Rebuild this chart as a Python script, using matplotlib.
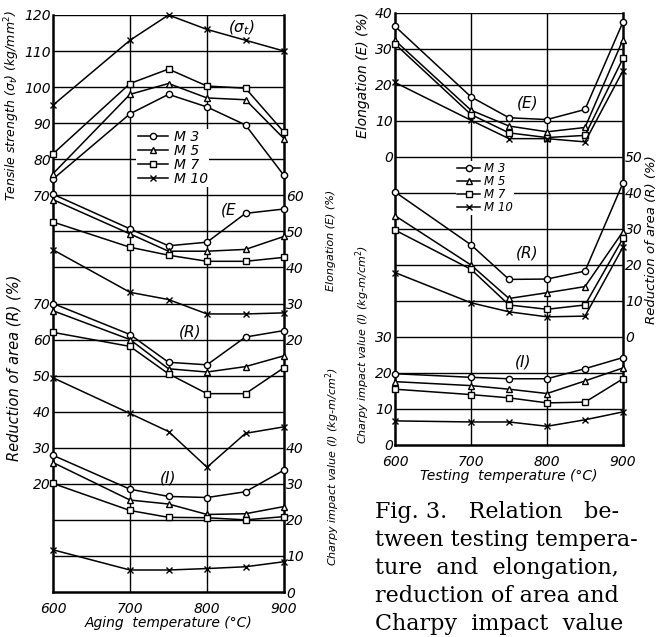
import matplotlib.pyplot as plt
from matplotlib.lines import Line2D

temps = [600, 700, 750, 800, 850, 900]
steels = ['M 3', 'M 5', 'M 7', 'M 10']
markers = ['o', '^', 's', 'x']

# left chart: aging temperature, rows = M3, M5, M7, M10
aging_tensile = [[74.5, 92.6, 98.0, 94.5, 89.5, 75.5],
                 [76.0, 98.0, 101.0, 97.0, 96.5, 85.7],
                 [81.5, 101.0, 105.0, 100.3, 99.7, 87.5],
                 [95.0, 113.0, 120.0, 116.0, 113.0, 110.0]]
aging_elong = [[60.3, 50.7, 46.0, 47.0, 55.0, 56.2],
               [58.8, 49.3, 44.5, 44.5, 45.0, 48.6],
               [52.6, 45.6, 43.4, 41.7, 41.7, 42.8],
               [44.9, 33.1, 31.1, 27.1, 27.1, 27.4]]
aging_red = [[70.0, 61.4, 53.7, 53.0, 60.7, 62.5],
             [68.0, 60.0, 51.9, 51.0, 52.5, 55.5],
             [62.0, 58.1, 50.5, 45.0, 45.0, 52.2],
             [49.4, 39.5, 34.5, 24.6, 34.0, 35.8]]
aging_charpy = [[37.9, 28.5, 26.5, 26.2, 27.8, 33.8],
                [35.9, 25.5, 24.4, 21.5, 21.7, 23.7],
                [30.1, 22.6, 20.7, 20.6, 20.0, 20.9],
                [11.7, 6.1, 6.1, 6.5, 7.0, 8.4]]

# right chart: testing temperature
test_elong = [[36.3, 16.7, 10.9, 10.4, 13.2, 37.5],
              [32.4, 13.0, 8.6, 7.0, 8.2, 32.6],
              [31.4, 11.8, 6.7, 5.4, 6.0, 27.4],
              [20.7, 10.2, 5.1, 5.1, 4.2, 24.0]]
test_red = [[40.3, 25.6, 16.0, 16.1, 18.3, 42.8],
            [33.7, 20.0, 10.7, 12.3, 14.0, 29.3],
            [29.7, 18.8, 8.9, 7.7, 8.9, 27.4],
            [17.9, 9.5, 7.0, 5.6, 5.8, 25.0]]
test_charpy = [[19.8, 18.8, 18.4, 18.4, 21.2, 24.3],
               [17.6, 16.5, 15.5, 14.3, 17.8, 21.4],
               [15.5, 14.0, 13.1, 11.7, 11.9, 18.4],
               [6.7, 6.4, 6.4, 5.2, 7.0, 9.2]]

narrow = ['Liberation Sans Narrow', 'DejaVu Sans']
tick_font = dict(family=narrow, style='italic')
label_font = dict(family=narrow, style='italic')

fig = plt.figure(figsize=(6.61, 6.37), dpi=100)


def draw_panel(ax, layers, xlabel):
    # layers: (data, ylim, ticks, side) ; first layer uses ax itself
    axes = []
    for i, (data, ylim, ticks, side) in enumerate(layers):
        a = ax if i == 0 else ax.twinx()
        a.set_xlim(600, 900)
        a.set_ylim(*ylim)
        for vals, m in zip(data, markers):
            a.plot(temps, vals, color='black', lw=1.1, marker=m, ms=4.5,
                   mfc='white', mec='black', mew=1.0, clip_on=False, zorder=3)
        a.set_yticks(ticks)
        a.set_yticklabels([str(t) for t in ticks], fontsize=10, **tick_font)
        if side == 'left':
            a.yaxis.tick_left()
        else:
            a.yaxis.tick_right()
        a.tick_params(axis='y', length=0, pad=1.5)
        for s in a.spines.values():
            s.set_visible(False)
        axes.append(a)
    base = axes[0]
    lo, hi = layers[0][1]
    for v in range(int(lo) + 10, int(hi) + 1, 10):
        base.axhline(v, color='black', lw=1.0, zorder=1)
    for t in (700, 800):
        base.axvline(t, color='black', lw=1.0, zorder=1)
    for s in ('left', 'right', 'bottom'):
        base.spines[s].set_visible(True)
        base.spines[s].set_linewidth(1.8)
    base.set_xticks([600, 700, 800, 900])
    base.set_xticklabels(['600', '700', '800', '900'], fontsize=10, **tick_font)
    base.tick_params(axis='x', length=0, pad=7)
    base.set_xlabel(xlabel, fontsize=10, labelpad=0, **label_font)
    return axes


# left panel
ax_l = fig.add_axes([53 / 661, 45 / 637, 231 / 661, 577 / 637])
left_axes = draw_panel(ax_l, [
    (aging_tensile, (-40, 120), [70, 80, 90, 100, 110, 120], 'left'),
    (aging_elong, (-50, 110), [20, 30, 40, 50, 60], 'right'),
    (aging_red, (-10, 150), [20, 30, 40, 50, 60, 70], 'left'),
    (aging_charpy, (0, 160), [0, 10, 20, 30, 40], 'right'),
], 'Aging  temperature (\u00b0C)')

left_axes[0].text(845, 116.5, r'($\sigma_t$)', fontsize=11, ha='center', va='center', style='italic')
left_axes[1].text(828, 56, '(E', fontsize=11, ha='center', va='center', **label_font)
left_axes[2].text(778, 62, '(R)', fontsize=11, ha='center', va='center', **label_font)
left_axes[3].text(750, 31.5, '(I)', fontsize=11, ha='center', va='center', **label_font)

handles = [Line2D([], [], color='black', lw=1.1, marker=m, ms=4.5, mfc='white',
                  mec='black') for m in markers]
leg = left_axes[3].legend(handles, steels, loc='upper left', bbox_to_anchor=(0.33, 0.815),
                          frameon=True, fancybox=False, edgecolor='none', framealpha=1,
                          handlelength=2.2, labelspacing=0.0, borderpad=0.1,
                          handletextpad=0.4, prop=dict(size=10, **label_font))
leg.set_zorder(5)

# right panel
ax_r = fig.add_axes([395 / 661, 192 / 637, 228 / 661, 432 / 637])
right_axes = draw_panel(ax_r, [
    (test_elong, (-80, 40), [0, 10, 20, 30, 40], 'left'),
    (test_red, (-30, 90), [0, 10, 20, 30, 40, 50], 'right'),
    (test_charpy, (0, 120), [0, 10, 20, 30], 'left'),
], 'Testing  temperature (\u00b0C)')

right_axes[0].text(774, 15, '(E)', fontsize=11, ha='center', va='center', **label_font)
right_axes[1].text(774, 23.3, '(R)', fontsize=11, ha='center', va='center', **label_font)
right_axes[2].text(768, 23, '(I)', fontsize=11, ha='center', va='center', **label_font)

leg2 = right_axes[2].legend(handles, steels, loc='upper left', bbox_to_anchor=(0.24, 0.672),
                            frameon=True, fancybox=False, edgecolor='none', framealpha=1,
                            handlelength=2.0, labelspacing=0.0, borderpad=0.1,
                            handletextpad=0.3, prop=dict(size=8.5, **label_font))
leg2.set_zorder(5)


# rotated axis titles
def side_label(x, y, s, size):
    fig.text(x / 661, 1 - y / 637, s, rotation=90, ha='center', va='center',
             fontsize=size, **label_font)


side_label(12, 106, r'Tensile strength ($\sigma_t$) (kg/mm$^2$)', 9)
side_label(14, 368, 'Reduction of area (R) (%)', 10.5)
side_label(331, 240, 'Elongation (E) (%)', 8)
side_label(333, 467, 'Charpy impact value (I) (kg-m/cm$^2$)', 8)
side_label(363, 75, 'Elongation (E) (%)', 10)
side_label(363, 345, 'Charpy impact value (I) (kg-m/cm$^2$)', 8)
side_label(652, 240, 'Reduction of area (R) (%)', 9.5)

caption = ['Fig. 3.   Relation   be-',
           'tween testing tempera-',
           'ture  and  elongation,',
           'reduction of area and',
           'Charpy  impact  value']
for i, line in enumerate(caption):
    fig.text(375 / 661, 1 - (512 + i * 28) / 637, line, fontsize=16,
             family='DejaVu Serif', ha='left', va='center')

fig.savefig('out.png', dpi=100)
